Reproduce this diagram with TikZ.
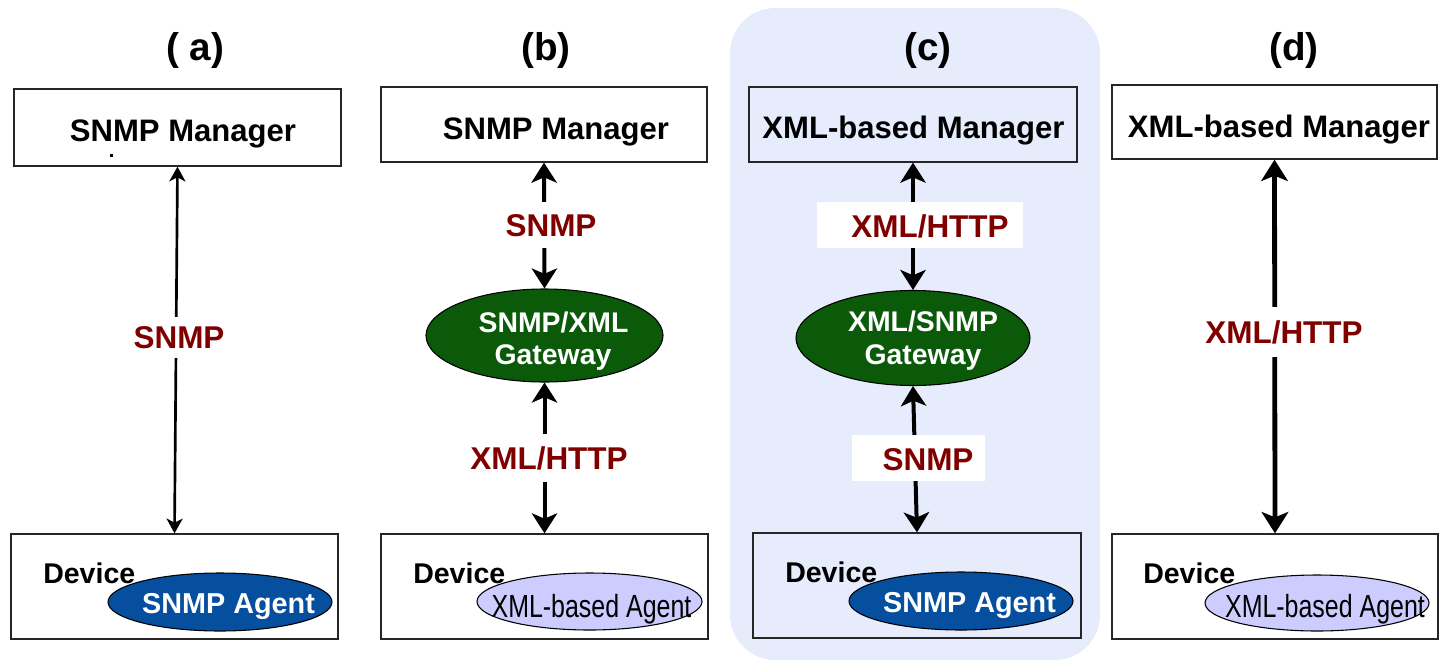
\documentclass[tikz,border=0pt]{standalone}
\usepackage{fontspec}
\setmainfont{Liberation Sans}
\newfontfamily\narrowfont[FakeStretch=0.78]{Liberation Sans}
\usetikzlibrary{shapes.geometric,arrows.meta}

\definecolor{protored}{HTML}{800000}
\definecolor{gatewaygreen}{HTML}{0A5A0A}
\definecolor{agentblue}{HTML}{064E9E}
\definecolor{agentlilac}{HTML}{CCCCFF}
\definecolor{panelblue}{HTML}{E6ECFC}

\tikzset{
  boxsz/.style 2 args={minimum width=#1*0.75pt, minimum height=#2*0.75pt},
  frame/.style={rectangle, draw=black!85, line width=1pt, inner sep=0pt},
  oval/.style={ellipse, draw=black, line width=0.8pt, inner sep=0pt},
  whitebox/.style={rectangle, fill=white, inner sep=0pt},
  title/.style={font=\fontsize{29}{34}\selectfont\bfseries, inner sep=0pt},
  mgrtext/.style={anchor=base, font=\fontsize{23.3}{28}\selectfont\bfseries, inner sep=0pt},
  devtext/.style={anchor=base west, font=\fontsize{21.4}{26}\selectfont\bfseries, inner sep=0pt},
  agenttext/.style={anchor=base, text=white, font=\fontsize{21.6}{26}\selectfont\bfseries, inner sep=0pt},
  xmlagenttext/.style={anchor=base, font=\fontsize{24}{28}\selectfont\narrowfont, inner sep=0pt},
  gwtext/.style={anchor=base, text=white, font=\fontsize{21.3}{25}\selectfont\bfseries, inner sep=0pt},
  proto/.style={anchor=base, text=protored, fill=white, inner xsep=3pt, inner ysep=9pt,
                font=\fontsize{23.6}{28}\selectfont\bfseries},
  prototext/.style={anchor=base, text=protored, inner sep=0pt,
                font=\fontsize{23.6}{28}\selectfont\bfseries},
  thinarr/.style={line width=2pt,
    {Stealth[length=11pt,width=12pt,inset=3pt]}-{Stealth[length=11pt,width=12pt,inset=3pt]}},
  thickarr/.style={line width=3pt,
    {Stealth[length=15pt,width=19pt,inset=4pt]}-{Stealth[length=15pt,width=19pt,inset=4pt]}},
  heavyarr/.style={line width=3.6pt,
    {Stealth[length=16pt,width=20pt,inset=4pt]}-{Stealth[length=16pt,width=20pt,inset=4pt]}},
}

\begin{document}
\begin{tikzpicture}[x=0.75pt,y=-0.75pt]
\useasboundingbox (0,0) rectangle (1440,661);

% highlighted panel behind column (c)
\fill[panelblue, rounded corners=34pt] (730,8) rectangle (1100,660);

% column titles
\node[title] (titleA) at (195,51) {( a)};
\node[title] (titleB) at (546,51) {(b)};
\node[title] (titleC) at (928,51) {(c)};
\node[title] (titleD) at (1294,51) {(d)};

% ---------- (a) SNMP manager talking SNMP to an SNMP agent ----------
\node[frame, boxsz={327}{77}] (mgrA) at (177.5,127.5) {};
\node[mgrtext] (mgrAtxt) at (183,141) {SNMP Manager};
\fill (109.5,153.5) rectangle (113,157) coordinate (dotA);
\node[frame, boxsz={327}{105}] (devA) at (174.5,586.5) {};
\node[oval, fill=agentblue, boxsz={224}{58}] (agA) at (220,602) {};
\node[agenttext] (agAtxt) at (228.5,613) {SNMP Agent};
\node[devtext] (devAtxt) at (43,583) {Device};
\draw[thinarr] (mgrA.south) -- (devA.north);
\node[proto, inner ysep=7pt] (lblA) at (179,348) {SNMP};

% ---------- (b) SNMP manager through an SNMP/XML gateway ----------
\node[frame, boxsz={326}{75}] (mgrB) at (544,124.5) {};
\node[mgrtext] (mgrBtxt) at (556,139) {SNMP Manager};
\node[oval, fill=gatewaygreen, boxsz={237}{93}] (gwB) at (544.5,335.5) {};
\node[gwtext] (gwBtxt1) at (553.5,332) {SNMP/XML};
\node[gwtext] (gwBtxt2) at (553,364) {Gateway};
\node[frame, boxsz={327}{105}] (devB) at (544.5,586.5) {};
\node[oval, fill=agentlilac, boxsz={225}{57}] (agB) at (589.5,601.5) {};
\node[xmlagenttext] (agBtxt) at (591.5,617) {XML-based Agent};
\node[devtext] (devBtxt) at (413,583) {Device};
\draw[thickarr] (mgrB.south) -- (gwB.north);
\draw[thickarr] (gwB.south) -- (devB.north);
\node[proto] (lblB1) at (551,236) {SNMP};
\node[proto] (lblB2) at (549,469) {XML/HTTP};

% ---------- (c) XML-based manager through an XML/SNMP gateway ----------
\node[frame, boxsz={328}{75}] (mgrC) at (913,124.5) {};
\node[mgrtext] (mgrCtxt) at (913.5,138) {XML-based Manager};
\node[oval, fill=gatewaygreen, boxsz={234}{95}] (gwC) at (913,338) {};
\node[gwtext] (gwCtxt1) at (923,331) {XML/SNMP};
\node[gwtext] (gwCtxt2) at (923,364) {Gateway};
\node[frame, boxsz={328}{105}] (devC) at (917,585.5) {};
\node[oval, fill=agentblue, boxsz={224}{58}] (agC) at (961,601) {};
\node[agenttext] (agCtxt) at (969.5,612) {SNMP Agent};
\node[devtext] (devCtxt) at (785,582) {Device};
\draw[thickarr] (mgrC.south) -- (gwC.north);
\draw[thickarr] (gwC.south) -- (devC.north);
\node[whitebox, boxsz={206}{46}] (lblC1box) at (920,225) {};
\node[prototext] (lblC1) at (930,237) {XML/HTTP};
\node[whitebox, boxsz={133}{46}] (lblC2box) at (918.5,458) {};
\node[prototext] (lblC2) at (928,470) {SNMP};

% ---------- (d) XML-based manager talking XML/HTTP to an XML-based agent ----------
\node[frame, boxsz={325}{74}] (mgrD) at (1274.5,122) {};
\node[mgrtext] (mgrDtxt) at (1279,137) {XML-based Manager};
\node[frame, boxsz={326}{105}] (devD) at (1275,586.5) {};
\node[oval, fill=agentlilac, boxsz={224}{56}] (agD) at (1317,603) {};
\node[xmlagenttext] (agDtxt) at (1325,617) {XML-based Agent};
\node[devtext] (devDtxt) at (1143,583) {Device};
\draw[heavyarr] (mgrD.south) -- (devD.north);
\node[proto, inner ysep=10pt] (lblD) at (1284,343) {XML/HTTP};
\end{tikzpicture}
\end{document}
